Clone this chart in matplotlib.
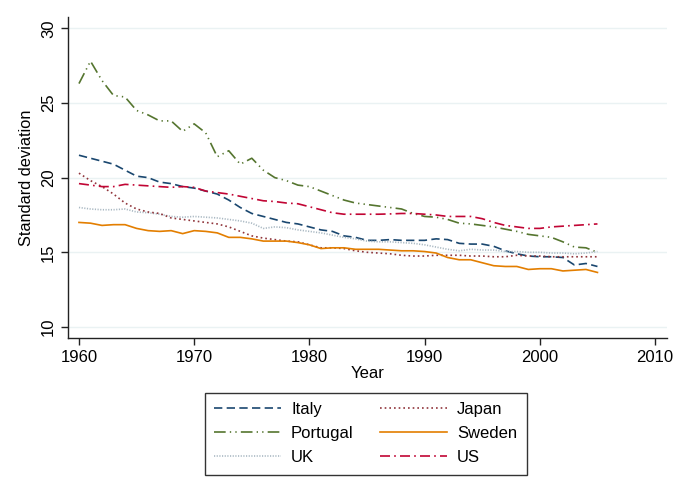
import numpy as np
import matplotlib
matplotlib.use("Agg")
import matplotlib.pyplot as plt

plt.rcParams['font.family'] = ['Liberation Sans', 'DejaVu Sans']

years = np.arange(1960, 2006)

italy = [21.5, 21.3, 21.1, 20.9, 20.5, 20.1, 20.0, 19.7, 19.6, 19.4,
         19.3, 19.1, 18.9, 18.5, 18.0, 17.6, 17.4, 17.2, 17.0, 16.9,
         16.7, 16.5, 16.4, 16.1, 16.0, 15.8, 15.8, 15.85, 15.8, 15.8,
         15.8, 15.9, 15.85, 15.6, 15.55, 15.55, 15.4, 15.1, 14.9, 14.75,
         14.7, 14.7, 14.65, 14.15, 14.25, 14.05]
portugal = [26.3, 27.8, 26.5, 25.5, 25.4, 24.5, 24.2, 23.8, 23.8, 23.1,
            23.6, 23.0, 21.4, 21.8, 20.9, 21.3, 20.5, 20.0, 19.8, 19.5,
            19.4, 19.1, 18.8, 18.5, 18.3, 18.2, 18.1, 18.0, 17.9, 17.6,
            17.4, 17.35, 17.2, 16.95, 16.9, 16.8, 16.7, 16.55, 16.4, 16.2,
            16.1, 16.0, 15.7, 15.35, 15.3, 15.0]
uk = [18.0, 17.9, 17.85, 17.85, 17.9, 17.7, 17.65, 17.55, 17.4, 17.35,
      17.4, 17.35, 17.3, 17.2, 17.1, 16.95, 16.6, 16.7, 16.65, 16.5,
      16.4, 16.3, 16.15, 16.0, 15.9, 15.75, 15.7, 15.7, 15.65, 15.6,
      15.5, 15.35, 15.2, 15.1, 15.2, 15.15, 15.15, 15.05, 15.05, 15.0,
      15.0, 14.95, 14.95, 14.9, 14.95, 15.05]
japan = [20.3, 19.8, 19.4, 18.9, 18.3, 17.9, 17.7, 17.6, 17.3, 17.2,
         17.1, 17.0, 16.9, 16.7, 16.4, 16.1, 15.95, 15.85, 15.75, 15.7,
         15.5, 15.3, 15.3, 15.25, 15.1, 15.0, 14.95, 14.9, 14.8, 14.75,
         14.75, 14.8, 14.8, 14.8, 14.75, 14.75, 14.7, 14.7, 14.8, 14.75,
         14.75, 14.7, 14.7, 14.7, 14.7, 14.7]
sweden = [17.0, 16.95, 16.8, 16.85, 16.85, 16.6, 16.45, 16.4, 16.45, 16.25,
          16.45, 16.4, 16.3, 16.0, 16.0, 15.9, 15.75, 15.75, 15.75, 15.65,
          15.5, 15.25, 15.3, 15.3, 15.2, 15.2, 15.2, 15.15, 15.1, 15.1,
          15.05, 14.95, 14.65, 14.5, 14.5, 14.3, 14.1, 14.05, 14.05, 13.85,
          13.9, 13.9, 13.75, 13.8, 13.85, 13.65]
us = [19.6, 19.5, 19.4, 19.4, 19.55, 19.5, 19.45, 19.4, 19.35, 19.4,
      19.35, 19.1, 19.0, 18.9, 18.75, 18.6, 18.45, 18.4, 18.3, 18.25,
      18.05, 17.85, 17.65, 17.55, 17.55, 17.55, 17.55, 17.57, 17.6, 17.6,
      17.55, 17.5, 17.4, 17.4, 17.4, 17.25, 17.0, 16.8, 16.7, 16.6,
      16.6, 16.7, 16.75, 16.8, 16.85, 16.9]

fig = plt.figure(figsize=(6.85, 4.98), dpi=100)
ax = fig.add_axes([0.0993, 0.3213, 0.8745, 0.6446])

lw = 1.2
l_it, = ax.plot(years, italy, color='#1a476f', lw=lw, ls=(0, (5, 2.6)), label='Italy')
l_pt, = ax.plot(years, portugal, color='#55752f', lw=lw, ls=(0, (7, 2.5, 0.8, 2.5, 0.8, 2.5)), label='Portugal')
l_uk, = ax.plot(years, uk, color='#a9b8c2', lw=lw, ls=(0, (0.7, 0.9)), label='UK')
l_jp, = ax.plot(years, japan, color='#90353b', lw=lw, ls=(0, (1, 1.8)), label='Japan')
l_sw, = ax.plot(years, sweden, color='#e37e00', lw=lw, ls='-', label='Sweden')
l_us, = ax.plot(years, us, color='#c10534', lw=lw, ls=(0, (6, 2.5, 1, 2.5)), label='US')

ax.set_xlim(1959.05, 2011.04)
ax.set_ylim(9.26, 30.76)
ax.set_xticks(np.arange(1960, 2011, 10))
ax.set_yticks(np.arange(10, 31, 5))
ax.yaxis.grid(True, color='#eaf2f3', lw=1)
ax.set_axisbelow(True)
for s in ['top', 'right']:
    ax.spines[s].set_visible(False)
for s in ['left', 'bottom']:
    ax.spines[s].set_color('#222222')
    ax.spines[s].set_linewidth(1)
ax.tick_params(direction='out', length=5, width=1, colors='#222222', labelsize=12, labelcolor='black')
plt.setp(ax.get_yticklabels(), rotation=90, va='center')
ax.set_xlabel('Year', fontsize=12, labelpad=1)
ax.set_ylabel('Standard deviation', fontsize=11.8, labelpad=5)

leg = fig.legend([l_it, l_pt, l_uk, l_jp, l_sw, l_us],
                 ['Italy', 'Portugal', 'UK', 'Japan', 'Sweden', 'US'],
                 ncol=2, loc='center', bbox_to_anchor=(0.534, 0.1295),
                 fontsize=12, handlelength=4.0, handletextpad=0.6,
                 columnspacing=1.6, labelspacing=0.54, borderpad=0.57,
                 fancybox=False, framealpha=1)
leg.get_frame().set_edgecolor('#333333')
leg.get_frame().set_linewidth(1)

fig.savefig('out.png', dpi=100)
